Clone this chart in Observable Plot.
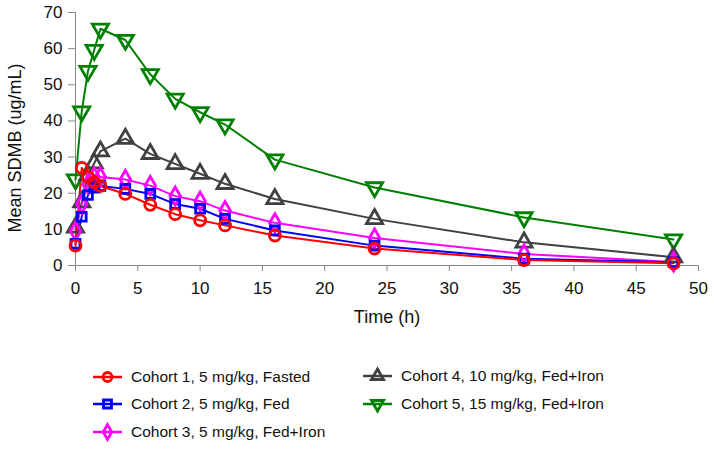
<!DOCTYPE html>
<html>
<head>
<meta charset="utf-8">
<script src="https://cdn.jsdelivr.net/npm/d3@7"></script>
<script src="https://cdn.jsdelivr.net/npm/@observablehq/plot@0.6"></script>
<style>
  html, body { margin: 0; padding: 0; background: #fff; }
  #wrap { position: relative; width: 714px; height: 449px; font-family: "Liberation Sans", Arial, sans-serif; }
  .leg { position: absolute; display: flex; align-items: center; font-size: 15.5px; color: #111; white-space: nowrap; }
  .leg svg { margin-right: 8px; }
</style>
</head>
<body>
<div id="wrap"><div id="chart"></div></div>
<script>
const times = [0, 0.5, 1, 1.5, 2, 4, 6, 8, 10, 12, 16, 24, 36, 48];
const cohortNames = [
  "Cohort 1, 5 mg/kg, Fasted",
  "Cohort 2, 5 mg/kg, Fed",
  "Cohort 3, 5 mg/kg, Fed+Iron",
  "Cohort 4, 10 mg/kg, Fed+Iron",
  "Cohort 5, 15 mg/kg, Fed+Iron"
];
const cohort1 = [5.5, 27, 24.5, 23, 22, 19.8, 16.8, 14.2, 12.5, 11.1, 8.3, 4.7, 1.5, 0.6];
const cohort2 = [6, 13.5, 19.5, 21.5, 22, 21.2, 19.8, 17, 15.7, 12.9, 9.7, 5.5, 1.9, 0.9];
const cohort3 = [9.5, 17, 22.5, 24.5, 24.5, 23.8, 22.1, 19.2, 17.8, 15.2, 11.8, 7.6, 3.2, 1.0];
const cohort4 = [10.5, 17.5, 25, 28.3, 31.6, 35.1, 30.9, 28.1, 25.4, 22.6, 18.4, 12.9, 6.4, 2.3];
const cohort5 = [23.8, 42.6, 53.8, 59.6, 65.5, 62.4, 52.9, 46.1, 42.4, 39, 29.3, 21.6, 13.3, 7.2];
const xTicks = [0, 5, 10, 15, 20, 25, 30, 35, 40, 45, 50];
const yTicks = [0, 10, 20, 30, 40, 50, 60, 70];

const triangleDown = {
  draw(context, size) {
    const y = -Math.sqrt(size / (Math.sqrt(3) * 3));
    context.moveTo(0, -y * 2);
    context.lineTo(-Math.sqrt(3) * y, y);
    context.lineTo(Math.sqrt(3) * y, y);
    context.closePath();
  }
};

const series = [
  {values: cohort1, color: "#ff0000", symbol: "circle", r: 5.5},
  {values: cohort2, color: "#0000ff", symbol: "square", r: 5},
  {values: cohort3, color: "#ff00ff", symbol: "diamond", r: 5.5},
  {values: cohort4, color: "#404040", symbol: "triangle", r: 6},
  {values: cohort5, color: "#008000", symbol: triangleDown, r: 6}
];

const marks = [
  Plot.ruleY([0], {stroke: "#888", strokeWidth: 1}),
  Plot.ruleX([0], {stroke: "#888", strokeWidth: 1}),
  Plot.axisX({ticks: xTicks, tickSize: 6, tickPadding: 10, stroke: "#888", label: null, fontSize: 17}),
  Plot.axisY({ticks: yTicks, tickSize: 7, tickPadding: 6, stroke: "#888", label: null, fontSize: 17}),
  Plot.text(["Time (h)"], {frameAnchor: "bottom", dy: 57, fontSize: 18, fill: "#111"}),
  Plot.text(["Mean SDMB (ug/mL)"], {frameAnchor: "left", textAnchor: "middle", dx: -60, dy: 9, rotate: -90, fontSize: 18, fill: "#111"})
];
for (let i = series.length - 1; i >= 0; i--) {
  const s = series[i];
  const data = times.map((t, j) => ({t, v: s.values[j]}));
  marks.push(Plot.line(data, {x: "t", y: "v", stroke: s.color, strokeWidth: 2}));
}
for (let i = series.length - 1; i >= 0; i--) {
  const s = series[i];
  const data = times.map((t, j) => ({t, v: s.values[j]}));
  marks.push(Plot.dot(data, {x: "t", y: "v", stroke: s.color, fill: "none", strokeWidth: 2.8, symbol: s.symbol, r: s.r}));
}

const chart = Plot.plot({
  width: 714,
  height: 345,
  marginLeft: 75,
  marginRight: 16,
  marginTop: 12,
  marginBottom: 80,
  style: {fontFamily: "Liberation Sans, Arial, sans-serif", fontSize: "17px", color: "#111", background: "white"},
  x: {domain: [0, 50]},
  y: {domain: [0, 70]},
  marks
});
document.getElementById("chart").appendChild(chart);

// Legend
const legendPos = [
  {x: 93, y: 377}, {x: 93, y: 404}, {x: 93, y: 432},
  {x: 363, y: 376}, {x: 363, y: 404}
];
const wrap = document.getElementById("wrap");
const symMap = {circle: d3.symbolCircle, square: d3.symbolSquare, diamond: d3.symbolDiamond, triangle: d3.symbolTriangle};
series.forEach((s, i) => {
  const div = document.createElement("div");
  div.className = "leg";
  div.style.left = legendPos[i].x + "px";
  div.style.top = (legendPos[i].y - 10) + "px";
  div.style.height = "20px";
  const svg = d3.create("svg").attr("width", 30).attr("height", 20);
  svg.append("line").attr("x1", 0).attr("x2", 29).attr("y1", 10).attr("y2", 10)
    .attr("stroke", s.color).attr("stroke-width", 2.5);
  const sym = typeof s.symbol === "string" ? symMap[s.symbol] : s.symbol;
  svg.append("path").attr("transform", "translate(14.5,10)")
    .attr("d", d3.symbol(sym, Math.PI * 4.5 * 4.5)())
    .attr("fill", "none").attr("stroke", s.color).attr("stroke-width", 2.8);
  div.appendChild(svg.node());
  const span = document.createElement("span");
  span.textContent = cohortNames[i];
  div.appendChild(span);
  wrap.appendChild(div);
});
</script>
</body>
</html>
